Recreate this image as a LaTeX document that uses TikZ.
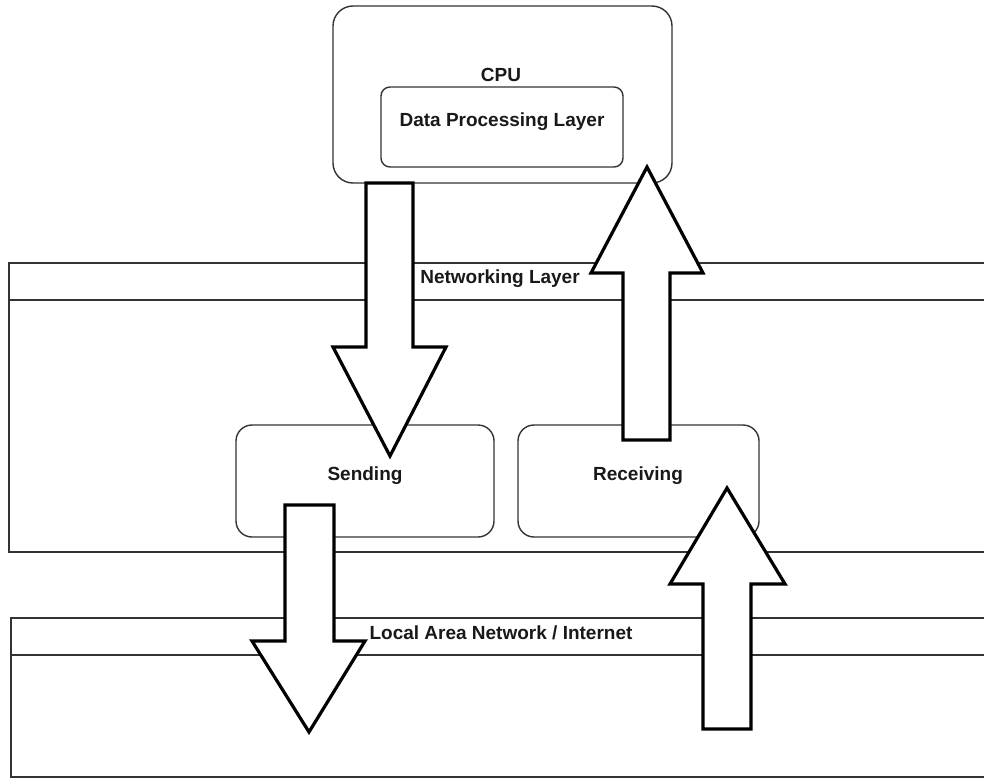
\documentclass[tikz,border=0pt]{standalone}
\usepackage{fontspec}
\setmainfont{Liberation Sans}
\begin{document}
\begin{tikzpicture}[x=1pt,y=-1pt,
  lbl/.style={font=\bfseries\fontsize{19}{23}\selectfont, inner sep=0pt, text=black!90},
  layerline/.style={line width=1.7pt, draw=black!80},
  roundbox/.style={draw=black!80, line width=1.4pt, rounded corners=#1, inner sep=0pt},
  blockarrow/.style={draw=black, fill=white, line width=3.2pt, line join=miter, miter limit=20}]
\clip (0,0) rectangle (984,779);
\fill[white] (0,0) rectangle (984,779);

% Networking layer
\draw[layerline] (995,263) -- (9,263) -- (9,552) -- (995,552);
\draw[layerline] (9,300) -- (995,300);
% LAN / Internet layer
\draw[layerline] (995,618) -- (11,618) -- (11,777) -- (995,777);
\draw[layerline] (11,655) -- (995,655);

% boxes
\node[roundbox=20pt, minimum width=339pt, minimum height=177pt] (cpu) at (502.5,94.5) {};
\node[roundbox=9pt, minimum width=242pt, minimum height=80pt] (dpl) at (502,127) {};
\node[roundbox=16pt, minimum width=258pt, minimum height=112pt] (send) at (365,481) {};
\node[roundbox=16pt, minimum width=241pt, minimum height=112pt] (recv) at (638.5,481) {};

% block arrows
\draw[blockarrow] (366,183) -- (413,183) -- (413,347) -- (446,347) -- (390,456) -- (333,347) -- (366,347) -- cycle;
\draw[blockarrow] (623,440) -- (670,440) -- (670,273) -- (703,273) -- (647,167) -- (591,273) -- (623,273) -- cycle;
\draw[blockarrow] (285,505) -- (334,505) -- (334,641) -- (365,641) -- (309,732) -- (252,641) -- (285,641) -- cycle;
\draw[blockarrow] (703,729) -- (751,729) -- (751,584) -- (785,584) -- (727,488) -- (670,584) -- (703,584) -- cycle;

% labels
\node[lbl] (cpulbl) at (501,75) {CPU};
\node[lbl] (dpllbl) at (502,122) {Data Processing Layer};
\node[lbl] (netlbl) at (500,279) {Networking Layer};
\node[lbl] (sendlbl) at (365,476) {Sending};
\node[lbl] (recvlbl) at (638,476) {Receiving};
\node[lbl] (lanlbl) at (501,633) {Local Area Network / Internet};
\end{tikzpicture}
\end{document}
